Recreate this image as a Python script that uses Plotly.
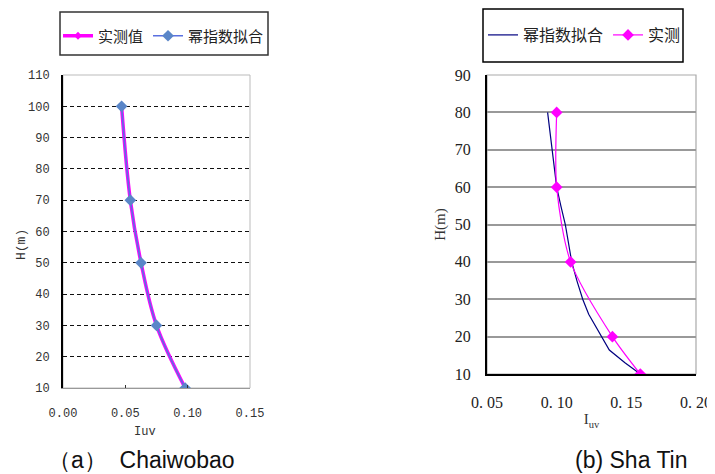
import plotly.graph_objects as go

# ---- data (a) Chaiwobao ----
a_height = [100, 70, 50, 30, 10]
a_measured = [0.047, 0.054, 0.0626, 0.075, 0.098]
a_fit = [0.047, 0.054, 0.0626, 0.075, 0.098]

# ---- data (b) Sha Tin ----
b_height = [80, 60, 40, 20, 10]
b_measured = [0.100, 0.100, 0.110, 0.140, 0.160]
b_fit_height = [80, 75, 70, 65, 60, 55, 50, 45, 40, 35, 30, 26, 23, 20, 18, 16.4, 13, 10]
b_fit = [0.0935, 0.0952, 0.0966, 0.0982, 0.1000, 0.1030, 0.1062, 0.1085, 0.1108, 0.1145,
         0.1187, 0.1230, 0.1275, 0.1325, 0.1352, 0.1378, 0.1490, 0.1600]

a_xticks = [0.0, 0.05, 0.10, 0.15]
a_xticktext = ["0.00", "0.05", "0.10", "0.15"]
a_yticks = [10, 20, 30, 40, 50, 60, 70, 80, 90, 100, 110]
b_xticks = [0.05, 0.10, 0.15, 0.20]
b_xticktext = ["0. 05", "0. 10", "0. 15", "0. 20"]
b_yticks = [10, 20, 30, 40, 50, 60, 70, 80, 90]

OFF = 8  # page body margin offset
W, H = 715 - OFF, 474 - OFF
def px(x): return (x - OFF) / W
def py(y): return 1 - (y - OFF) / H

fig = go.Figure()

# (a) traces
fig.add_trace(go.Scatter(x=a_measured, y=a_height, name="实测值", mode="lines+markers",
                         line=dict(color="#FF00FF", width=3.5, shape="spline"),
                         marker=dict(symbol="diamond", size=6, color="#FF00FF"),
                         xaxis="x", yaxis="y", legend="legend"))
fig.add_trace(go.Scatter(x=a_fit, y=a_height, name="幂指数拟合", mode="lines+markers",
                         line=dict(color="#5A70E0", width=1.6, shape="spline"),
                         marker=dict(symbol="diamond", size=9, color="#5A86C8"),
                         xaxis="x", yaxis="y", legend="legend"))

# (b) traces
fig.add_trace(go.Scatter(x=b_fit, y=b_fit_height, name="幂指数拟合", mode="lines",
                         line=dict(color="#000080", width=1.2),
                         xaxis="x2", yaxis="y2", legend="legend2"))
fig.add_trace(go.Scatter(x=b_measured, y=b_height, name="实测", mode="lines+markers",
                         line=dict(color="#FF00FF", width=1.2, shape="spline", smoothing=0.8),
                         marker=dict(symbol="diamond", size=9, color="#FF00FF"),
                         xaxis="x2", yaxis="y2", legend="legend2"))

small_font = dict(family="Liberation Mono", size=12, color="#333333")
serif_font = dict(family="Liberation Serif", size=16, color="#222222")

fig.update_layout(
    width=W, height=H,
    margin=dict(l=0, r=0, t=0, b=0, autoexpand=False),
    paper_bgcolor="white", plot_bgcolor="white",
    showlegend=True,
    xaxis=dict(domain=[px(63), px(250)], range=[0, 0.15], tickvals=a_xticks, ticktext=a_xticktext,
               showgrid=False, zeroline=False, showline=True, linecolor="#999999", linewidth=1.2,
               ticks="inside", ticklen=3, tickcolor="#333333", ticklabelstandoff=13, tickfont=small_font,
               ticklabeloverflow="allow", automargin=False, anchor="y"),
    yaxis=dict(domain=[py(388), py(75)], range=[10, 110], tickvals=a_yticks,
               showgrid=True, gridcolor="#111111", griddash="4px,3px", gridwidth=1.4,
               zeroline=False, showline=True, linecolor="#000000", linewidth=2,
               ticks="", ticklabelstandoff=9, tickfont=small_font,
               ticklabeloverflow="allow", automargin=False, anchor="x"),
    xaxis2=dict(domain=[px(487), px(696)], range=[0.05, 0.20], tickvals=b_xticks, ticktext=b_xticktext,
                showgrid=False, zeroline=False, showline=True, linecolor="#000000", linewidth=1.5,
                ticks="", ticklabelstandoff=13, tickfont=serif_font,
                title=dict(text="I<sub>uv</sub>", font=dict(family="Liberation Serif", size=15, color="#333"), standoff=4),
                ticklabeloverflow="allow", automargin=False, anchor="y2"),
    yaxis2=dict(domain=[py(374), py(75)], range=[10, 90], tickvals=b_yticks,
                showgrid=True, gridcolor="#999999", gridwidth=1.5,
                zeroline=False, showline=True, linecolor="#000000", linewidth=2,
                ticks="", ticklabelstandoff=11, tickfont=serif_font,
                title=dict(text="H(m)", font=dict(family="Liberation Serif", size=15, color="#333"), standoff=6),
                ticklabeloverflow="allow", automargin=False, anchor="x2"),
    legend=dict(orientation="h", x=px(58), y=py(36), xanchor="left", yanchor="middle",
                borderwidth=0, bgcolor="rgba(0,0,0,0)",
                font=dict(family="Noto Sans CJK SC", size=15, color="#222"),
                itemwidth=30),
    legend2=dict(orientation="h", x=px(483), y=py(35), xanchor="left", yanchor="middle",
                 borderwidth=0, bgcolor="rgba(0,0,0,0)",
                 font=dict(family="Noto Sans CJK SC", size=16, color="#222"),
                 itemwidth=30),
    shapes=[
        dict(type="rect", xref="x domain", yref="y domain", x0=0, x1=1, y0=0, y1=1,
             line=dict(color="#BBBBBB", width=1), layer="below"),
        dict(type="rect", xref="x2 domain", yref="y2 domain", x0=0, x1=1, y0=0, y1=1,
             line=dict(color="#AAAAAA", width=1.2), layer="below"),
        # legend frames
        dict(type="rect", xref="paper", yref="paper", x0=px(60), x1=px(268), y0=py(55), y1=py(12),
             line=dict(color="#333333", width=1.5), layer="below"),
        dict(type="rect", xref="paper", yref="paper", x0=px(483), x1=px(683), y0=py(62), y1=py(9),
             line=dict(color="#000000", width=1.5), layer="below"),
    ],
    annotations=[
        dict(text="H(m)", x=px(22), y=py(245), xref="paper", yref="paper", textangle=-90,
             xanchor="center", yanchor="middle", showarrow=False,
             font=dict(family="Liberation Mono", size=13, color="#333")),
        dict(text="Iuv", x=px(145), y=py(432), xref="paper", yref="paper",
             xanchor="center", yanchor="middle", showarrow=False,
             font=dict(family="Liberation Mono", size=12, color="#333")),
        dict(text="（a）  Chaiwobao", x=px(46), y=py(460), xref="paper", yref="paper",
             xanchor="left", yanchor="middle", showarrow=False,
             font=dict(family="Liberation Sans", size=23, color="#111")),
        dict(text="(b) Sha Tin", x=px(573), y=py(460), xref="paper", yref="paper",
             xanchor="left", yanchor="middle", showarrow=False,
             font=dict(family="Liberation Sans", size=23, color="#111")),
    ],
)

fig.write_html(
    "out.html",
    post_script="document.documentElement.style.overflow='hidden';document.body.style.overflow='hidden';",
)
